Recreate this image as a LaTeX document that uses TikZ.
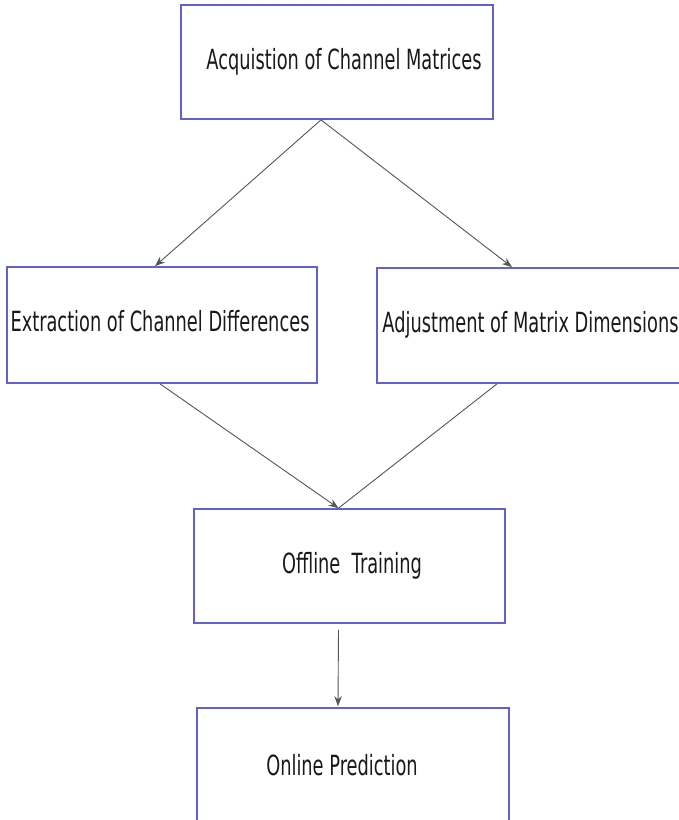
\documentclass[tikz,border=0pt]{standalone}
\usepackage{fontspec}
\setmainfont[FakeStretch=0.64]{DejaVu Sans}
\usetikzlibrary{calc,arrows.meta}
\definecolor{boxblue}{RGB}{98,98,200}
\definecolor{linegray}{RGB}{85,85,85}
\definecolor{txt}{RGB}{25,25,25}
\tikzset{
  stage/.style={draw=boxblue, line width=1.7pt, fill=white, rectangle,
    inner sep=0pt, text=txt, font=\fontsize{27.8}{32}\selectfont},
  flow/.style={draw=linegray, line width=0.9pt},
  head/.style={-{Stealth[length=10pt,width=7.5pt]}}
}
\begin{document}
\begin{tikzpicture}[x=1pt,y=-1pt]
\useasboundingbox (0,0) rectangle (679,820);
\clip (0,0) rectangle (679,820);
\fill[white] (0,0) rectangle (679,820);

% stages of the procedure
\node[stage, minimum width=312pt, minimum height=114pt] (acq) at (337,62)
  {\hspace*{14pt}\raisebox{7pt}{Acquistion of Channel Matrices}};
\node[stage, minimum width=310pt, minimum height=116pt] (ext) at (162,325)
  {\hspace*{-4pt}\raisebox{8pt}{Extraction of Channel Differences}};
\node[stage, minimum width=316pt, minimum height=115pt] (adj) at (535,325.5)
  {\hspace*{-9pt}\raisebox{7pt}{Adjustment of Matrix Dimensions}};
\node[stage, minimum width=311pt, minimum height=114pt] (off) at (349.5,566)
  {\hspace*{5pt}Offline~~Training};
\node[stage, minimum width=312pt, minimum height=115pt] (onl) at (353,765.5)
  {\hspace*{-22pt}\raisebox{-5pt}{Online Prediction}};

% connectors
\draw[flow, head] ($(acq.south)+(-16,0)$) -- ($(ext.north)+(-7,0)$);
\draw[flow, head] ($(acq.south)+(-16,0)$) -- ($(adj.north)+(-23,0)$);
\draw[flow, head] ($(ext.south)+(-2,0)$) -- ($(off.north)+(-11,0)$);
\draw[flow] ($(adj.south)+(-38,0)$) -- ($(off.north)+(-11,0)$);
\draw[flow, head] ($(off.south)+(-11,6)$) -- ($(onl.north)+(-15,-1)$);
\end{tikzpicture}
\end{document}
